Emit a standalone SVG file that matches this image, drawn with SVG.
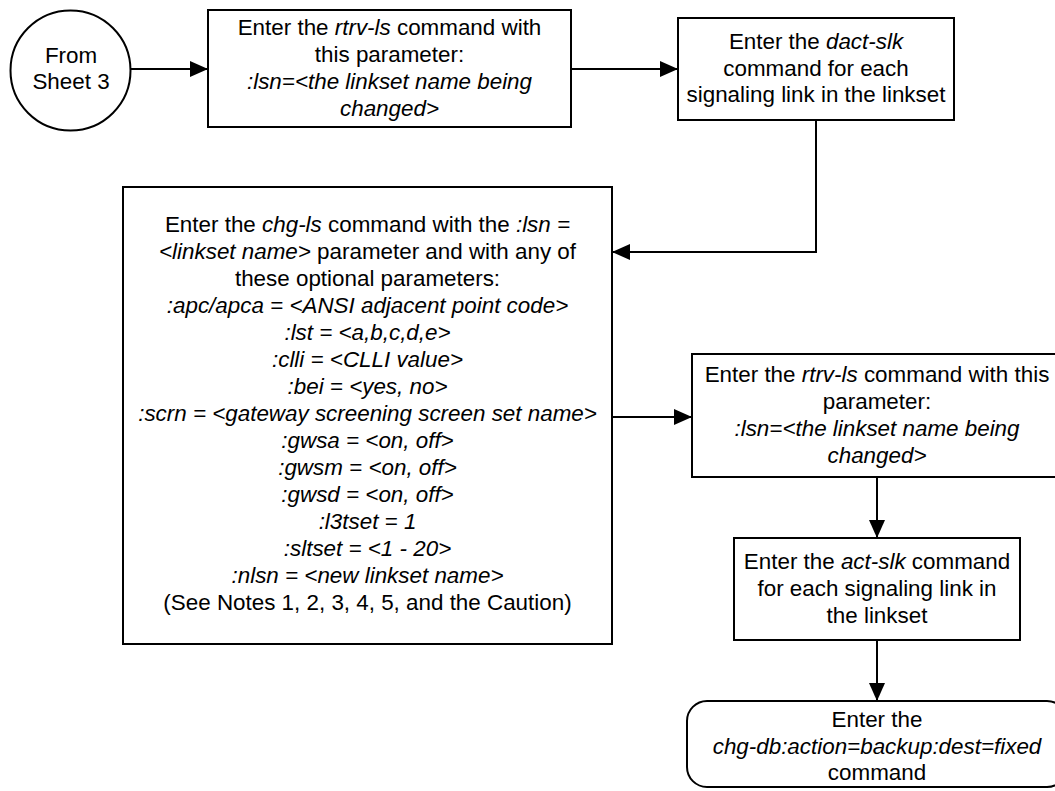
<svg xmlns="http://www.w3.org/2000/svg" width="1055" height="791" viewBox="0 0 1055 791">
<style>
.n{fill:#fff;stroke:#000;stroke-width:2}
.t{font-family:"Liberation Sans",Arial,sans-serif;font-size:22.4px;fill:#000;text-anchor:middle}
.i{font-style:italic}
.c{fill:none;stroke:#000;stroke-width:2}
</style>
<defs>
<marker id="a" markerWidth="18" markerHeight="16" refX="18" refY="8" orient="auto" markerUnits="userSpaceOnUse">
<path d="M0,0 L18,8 L0,16 Z" fill="#000"/>
</marker>
</defs>
<rect width="1055" height="791" fill="#fff"/>
<g id="connectors">
<path class="c" d="M131,69 H208" marker-end="url(#a)"/>
<path class="c" d="M571,69 H678" marker-end="url(#a)"/>
<path class="c" d="M816,120 V252 H612" marker-end="url(#a)"/>
<path class="c" d="M612,417 H692" marker-end="url(#a)"/>
<path class="c" d="M877,477 V538" marker-end="url(#a)"/>
<path class="c" d="M877,640 V701" marker-end="url(#a)"/>
</g>
<g id="start">
<circle class="n" cx="70.5" cy="70.5" r="60"/>
<text class="t" x="71" y="63">From</text>
<text class="t" x="71" y="89">Sheet 3</text>
</g>
<g id="rtrv1">
<rect class="n" x="208" y="10" width="363" height="117"/>
<text class="t" x="389.5" y="35">Enter the <tspan class="i">rtrv-ls</tspan> command with</text>
<text class="t" x="389.5" y="62">this parameter:</text>
<text class="t i" x="389.5" y="89">:lsn=&lt;the linkset name being</text>
<text class="t i" x="389.5" y="116">changed&gt;</text>
</g>
<g id="dact">
<rect class="n" x="678" y="18" width="276" height="102"/>
<text class="t" x="816" y="49">Enter the <tspan class="i">dact-slk</tspan></text>
<text class="t" x="816" y="76">command for each</text>
<text class="t" x="816" y="102">signaling link in the linkset</text>
</g>
<g id="chgls">
<rect class="n" x="123" y="187" width="489" height="457"/>
<text class="t" x="367.5" y="232">Enter the <tspan class="i">chg-ls</tspan> command with the <tspan class="i">:lsn =</tspan></text>
<text class="t" x="367.5" y="259"><tspan class="i">&lt;linkset name&gt;</tspan> parameter and with any of</text>
<text class="t" x="367.5" y="286">these optional parameters:</text>
<text class="t i" x="367.5" y="313">:apc/apca = &lt;ANSI adjacent point code&gt;</text>
<text class="t i" x="367.5" y="340">:lst = &lt;a,b,c,d,e&gt;</text>
<text class="t i" x="367.5" y="367">:clli = &lt;CLLI value&gt;</text>
<text class="t i" x="367.5" y="394">:bei = &lt;yes, no&gt;</text>
<text class="t i" x="367.5" y="421">:scrn = &lt;gateway screening screen set name&gt;</text>
<text class="t i" x="367.5" y="448">:gwsa = &lt;on, off&gt;</text>
<text class="t i" x="367.5" y="475">:gwsm = &lt;on, off&gt;</text>
<text class="t i" x="367.5" y="502">:gwsd = &lt;on, off&gt;</text>
<text class="t i" x="367.5" y="529">:l3tset = 1</text>
<text class="t i" x="367.5" y="556">:sltset = &lt;1 - 20&gt;</text>
<text class="t i" x="367.5" y="583">:nlsn = &lt;new linkset name&gt;</text>
<text class="t" x="367.5" y="610">(See Notes 1, 2, 3, 4, 5, and the Caution)</text>
</g>
<g id="rtrv2">
<rect class="n" x="692" y="354" width="370" height="123"/>
<text class="t" x="877" y="382">Enter the <tspan class="i">rtrv-ls</tspan> command with this</text>
<text class="t" x="877" y="409">parameter:</text>
<text class="t i" x="877" y="436">:lsn=&lt;the linkset name being</text>
<text class="t i" x="877" y="463">changed&gt;</text>
</g>
<g id="act">
<rect class="n" x="734" y="538" width="286" height="102"/>
<text class="t" x="877" y="569">Enter the <tspan class="i">act-slk</tspan> command</text>
<text class="t" x="877" y="596">for each signaling link in</text>
<text class="t" x="877" y="623">the linkset</text>
</g>
<g id="backup">
<rect class="n" x="687" y="701" width="380" height="86" rx="20" ry="20"/>
<text class="t" x="877" y="727">Enter the</text>
<text class="t i" x="877" y="754">chg-db:action=backup:dest=fixed</text>
<text class="t" x="877" y="780">command</text>
</g>
</svg>
